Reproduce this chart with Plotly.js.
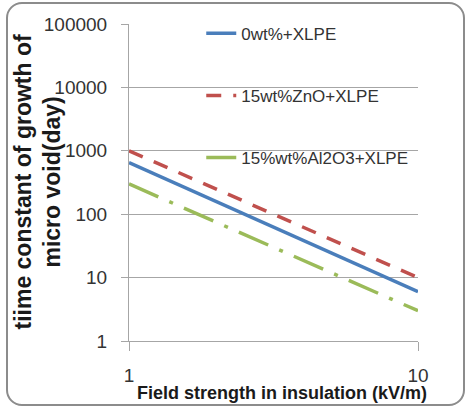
<!DOCTYPE html>
<html>
<head>
<meta charset="utf-8">
<script src="https://cdn.plot.ly/plotly-3.0.1.min.js"></script>
<style>
  html, body { margin: 0; padding: 0; background: #fff; }
  #wrap { position: relative; width: 466px; height: 411px; overflow: hidden; }
  #chart { position: absolute; left: 0; top: 0; width: 466px; height: 411px; }
  #frame { position: absolute; left: 6px; top: 2px; width: 455px; height: 400px;
           border: 2px solid #8c8c8c; border-radius: 16px; pointer-events: none; }
</style>
</head>
<body>
<div id="wrap">
  <div id="chart"></div>
  <div id="frame"></div>
</div>
<script>
// Field strength in insulation (kV/m)
const fieldStrength = [1, 2, 4, 6, 8, 10];
// time constant of growth of micro void (day)
const xlpe0 = [650, 158, 38, 17, 9.3, 6];
const znoXlpe = [1000, 250, 62, 28, 15.6, 10];
const al2o3Xlpe = [300, 75, 19, 8.3, 4.7, 3];

const seriesNames = ['0wt%+XLPE', '15wt%ZnO+XLPE', '15%wt%Al2O3+XLPE'];
const yTickVals = [1, 10, 100, 1000, 10000, 100000];
const yTickText = ['1', '10', '100', '1000', '10000', '100000'];
const xTickVals = [1, 10];
const xTickText = ['1', '10'];

const baseFont = 'Liberation Sans, Arial, sans-serif';

const traces = [
  { x: fieldStrength, y: xlpe0, name: seriesNames[0], legendgroup: 'a', mode: 'lines',
    line: { color: '#4a7ebb', width: 3.5 } },
  { x: fieldStrength, y: znoXlpe, name: seriesNames[1], legendgroup: 'b', mode: 'lines',
    line: { color: '#c0504d', width: 3.5, dash: '15px,12px' } },
  { x: fieldStrength, y: al2o3Xlpe, name: seriesNames[2], legendgroup: 'c', mode: 'lines',
    line: { color: '#9bbb59', width: 3.5, dash: '32px,12px,4px,12px' } }
];

const layout = {
  width: 466, height: 411,
  margin: { l: 129, r: 48, t: 24, b: 70 },
  paper_bgcolor: '#fff', plot_bgcolor: '#fff',
  showlegend: true,
  legend: {
    x: 0.25, y: 1.026, xanchor: 'left', yanchor: 'top',
    bgcolor: 'rgba(0,0,0,0)',
    font: { family: baseFont, size: 17, color: '#333' },
    tracegroupgap: 37
  },
  xaxis: {
    type: 'log', range: [0, 1],
    tickvals: xTickVals, ticktext: xTickText,
    showgrid: true, gridcolor: '#a6a6a6', gridwidth: 1,
    showline: true, linecolor: '#a6a6a6', linewidth: 1,
    ticks: 'outside', ticklen: 9, tickcolor: '#a6a6a6',
    ticklabelstandoff: 8,
    tickfont: { family: baseFont, size: 19, color: '#333' },
    zeroline: false, mirror: false
  },
  yaxis: {
    type: 'log', range: [0, 5],
    tickvals: yTickVals, ticktext: yTickText,
    showgrid: true, gridcolor: '#a6a6a6', gridwidth: 1,
    showline: true, linecolor: '#a6a6a6', linewidth: 1,
    ticks: 'outside', ticklen: 7, tickcolor: '#a6a6a6',
    ticklabelstandoff: 10,
    tickfont: { family: baseFont, size: 19, color: '#333' },
    zeroline: false
  },
  annotations: [
    { text: 'tiime constant of growth of<br>micro void(day)', textangle: -90,
      xref: 'paper', yref: 'paper', x: (37 - 129) / 289, y: 0.5,
      xanchor: 'center', yanchor: 'middle', showarrow: false,
      font: { family: baseFont, size: 23, color: '#1a1a1a', weight: 'bold' } },
    { text: 'Field strength in insulation (kV/m)',
      xref: 'paper', yref: 'paper', x: (282 - 129) / 289, y: -(393 - 341) / 317,
      xanchor: 'center', yanchor: 'middle', showarrow: false,
      font: { family: baseFont, size: 18, color: '#1a1a1a', weight: 'bold' } }
  ]
};

Plotly.newPlot('chart', traces, layout, { displayModeBar: false, staticPlot: true });
</script>
</body>
</html>
